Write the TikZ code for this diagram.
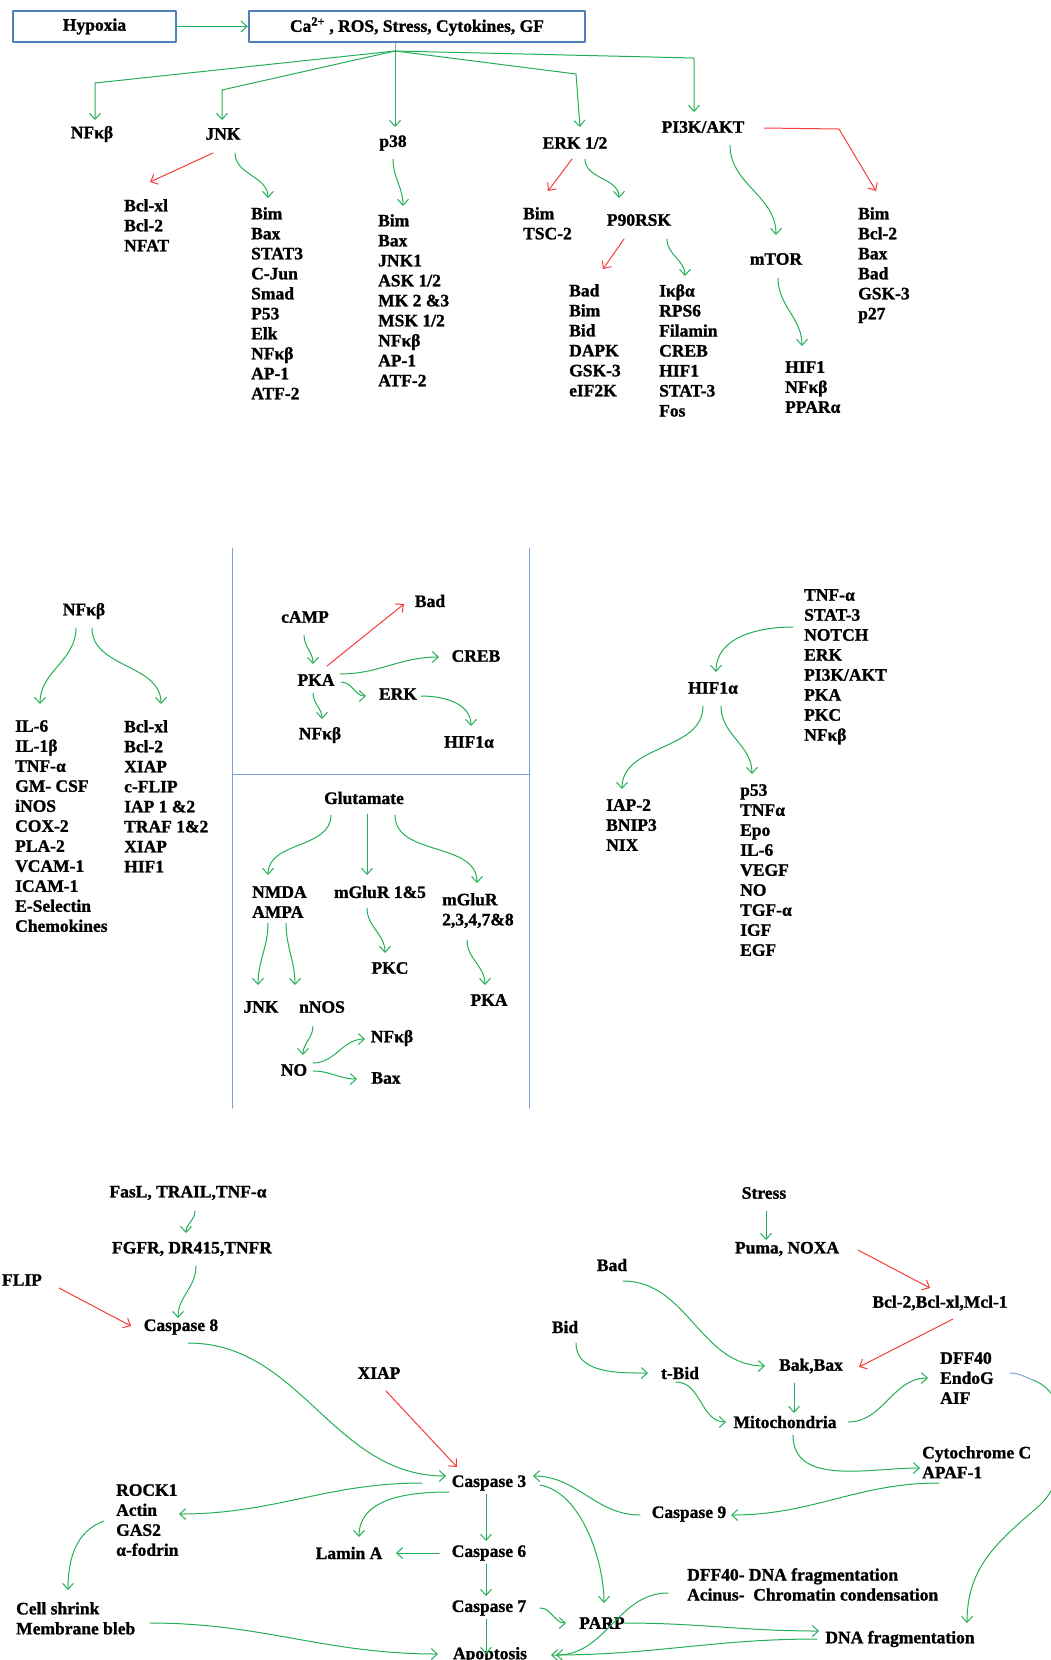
\documentclass[tikz,border=0pt]{standalone}
\usepackage{fontspec}
\setmainfont{Liberation Serif}[BoldFeatures={FakeBold=1.2}]
\usetikzlibrary{arrows.meta,calc}
\definecolor{arrgreen}{RGB}{35,175,85}
\definecolor{arrred}{RGB}{245,60,60}
\definecolor{boxblue}{RGB}{79,129,189}
\definecolor{sepblue}{RGB}{125,160,215}
\begin{document}
\begin{tikzpicture}[x=1pt,y=1pt,font=\fontsize{17.5}{20}\selectfont\bfseries,line join=round,line cap=round,>={Straight Barb[length=6pt,width=11pt]}]
\tikzset{every node/.style={inner sep=1pt},
  ga/.style={arrgreen,line width=1pt,->},
  ra/.style={arrred,line width=1pt,->},
  lst/.style={align=left,anchor=north west,inner sep=0pt},
  bx/.style={draw=boxblue,line width=2.5pt,minimum height=31pt}}
\useasboundingbox (0,0) rectangle (1051,-1660);

% kinases
\node[bx,minimum width=163pt] (hyp) at (94.5,-26.5) {Hypoxia};
\node[bx,minimum width=336pt] (ca) at (417,-26.5) {Ca\textsuperscript{2+} , ROS, Stress, Cytokines, GF};
\coordinate (hub) at (395,-51);
\node (nfkb1) at (92,-134) {NFκβ};
\node (jnk1) at (223,-134) {JNK};
\node (p38) at (393,-143) {p38};
\node (erk1) at (575,-143) {ERK 1/2};
\node (pi3k) at (703,-127) {PI3K/AKT};
\node[lst] (bclA) at (124,-199) {Bcl-xl\\Bcl-2\\NFAT};
\node[lst] (jnkL) at (251,-207) {Bim\\Bax\\STAT3\\C-Jun\\Smad\\P53\\Elk\\NFκβ\\AP-1\\ATF-2};
\node[lst] (p38L) at (378,-214) {Bim\\Bax\\JNK1\\ASK 1/2\\MK 2 \&3\\MSK 1/2\\NFκβ\\AP-1\\ATF-2};
\node[lst] (erkL) at (523,-207) {Bim\\TSC-2};
\node (p90) at (639,-220) {P90RSK};
\node[lst] (p90A) at (569,-284) {Bad\\Bim\\Bid\\DAPK\\GSK-3\\eIF2K};
\node[lst] (p90B) at (659,-284) {Iκβα\\RPS6\\Filamin\\CREB\\HIF1\\STAT-3\\Fos};
\node (mtor) at (776,-259) {mTOR};
\node[lst] (mtorL) at (785,-361) {HIF1\\NFκβ\\PPARα};
\node[lst] (pi3kL) at (858,-207) {Bim\\Bcl-2\\Bax\\Bad\\GSK-3\\p27};

\draw[ga] (hyp) -- (ca);
\draw[sepblue,line width=1pt] (ca.south -| hub) -- (hub);
\draw[ga] (hub) -- (95,-83) -- ($(nfkb1)+(3,14)$);
\draw[ga] (hub) -- (222,-90) -- ($(jnk1)+(-1,14)$);
\draw[ga] (hub) -- ($(p38)+(2,16)$);
\draw[ga] (hub) -- (576,-74) -- ($(erk1)+(5,16)$);
\draw[ga] (hub) -- (694,-58) -- ($(pi3k)+(-9,15)$);
\draw[ra] ($(jnk1)+(-10,-19)$) -- ($(bclA.north west)+(26,17)$);
\draw[ga] ($(jnk1)+(12,-19)$) to[out=-90,in=90] ($(jnkL.north west)+(17,9)$);
\draw[ga] ($(p38)+(0,-16)$) to[out=-90,in=90] ($(p38L.north west)+(25,8)$);
\draw[ra] ($(erk1)+(-3,-16)$) -- ($(erkL.north west)+(25,16)$);
\draw[ga] ($(erk1)+(10,-16)$) to[out=-90,in=90] ($(p90)+(-20,22)$);
\draw[ra] ($(p90)+(-15,-19)$) -- ($(p90A.north west)+(34,15)$);
\draw[ga] ($(p90)+(28,-19)$) to[out=-90,in=90] ($(p90B.north west)+(26,8)$);
\draw[ga] ($(pi3k)+(27,-18)$) to[out=-90,in=90] ($(mtor)+(0,24)$);
\draw[ga] ($(mtor)+(2,-19)$) to[out=-90,in=90] ($(mtorL.north west)+(17,15)$);
\draw[ra] ($(pi3k)+(61,-1)$) -- (839,-129) -- ($(pi3kL.north west)+(18,16)$);

% NFkb, cAMP, glutamate, HIF1a
\draw[sepblue,line width=1pt] (232,-548) -- (232,-1108) (529,-548) -- (529,-1108) (232,-774) -- (529,-774);
\node (nfkb2) at (84,-611) {NFκβ};
\node[lst] (il6L) at (15,-720) {IL-6\\IL-1β\\TNF-α\\GM- CSF\\iNOS\\COX-2\\PLA-2\\VCAM-1\\ICAM-1\\E-Selectin\\Chemokines};
\node[lst] (bcl2L) at (124,-720) {Bcl-xl\\Bcl-2\\XIAP\\c-FLIP\\IAP 1 \&2\\TRAF 1\&2\\XIAP\\HIF1};
\node (camp) at (305,-617) {cAMP};
\node (bad1) at (430,-601) {Bad};
\node (pka) at (316,-680) {PKA};
\node (creb) at (476,-656) {CREB};
\node (erk2) at (398,-694) {ERK};
\node (nfkb3) at (320,-735) {NFκβ};
\node (hif1) at (469,-742) {HIF1α};
\node (glut) at (364,-798) {Glutamate};
\node[lst] (nmdaL) at (252,-886) {NMDA\\AMPA};
\node (mglu15) at (380,-892) {mGluR 1\&5};
\node[lst] (mglu2L) at (442,-893) {mGluR\\2,3,4,7\&8};
\node (jnk2) at (261,-1007) {JNK};
\node (nnos) at (322,-1007) {nNOS};
\node (pkc) at (390,-968) {PKC};
\node (pka2) at (489,-1000) {PKA};
\node (no) at (294,-1070) {NO};
\node (nfkb4) at (392,-1038) {NFκβ};
\node (bax) at (386,-1078) {Bax};
\node[lst] (tnfL) at (804,-589) {TNF-α\\STAT-3\\NOTCH\\ERK\\PI3K/AKT\\PKA\\PKC\\NFκβ};
\node (hif2) at (713,-688) {HIF1α};
\node[lst] (iap) at (606,-799) {IAP-2\\BNIP3\\NIX};
\node[lst] (p53L) at (740,-784) {p53\\TNFα\\Epo\\IL-6\\VEGF\\NO\\TGF-α\\IGF\\EGF};

\draw[ga] ($(nfkb2)+(-8,-17)$) to[out=-90,in=90] ($(il6L.north west)+(25,16)$);
\draw[ga] ($(nfkb2)+(8,-17)$) to[out=-90,in=90] ($(bcl2L.north west)+(37,16)$);
\draw[ga] ($(camp)+(-1,-18)$) to[out=-90,in=90] ($(pka)+(-3,16)$);
\draw[ra] ($(pka)+(11,14)$) -- ($(bad1)+(-26,-3)$);
\draw[ga] ($(pka)+(24,6)$) to[out=0,in=180] ($(creb)+(-37,-1)$);
\draw[ga] ($(pka)+(25,-2)$) to[out=0,in=180] ($(erk2)+(-32,-2)$);
\draw[ga] ($(pka)+(-3,-13)$) to[out=-90,in=90] ($(nfkb3)+(2,16)$);
\draw[ga] ($(erk2)+(23,-2)$) to[out=0,in=90] ($(hif1)+(2,16)$);
\draw[ga] ($(glut)+(-33,-17)$) to[out=-90,in=90] ($(nmdaL.north west)+(16,11)$);
\draw[ga] ($(glut)+(3,-16)$) -- ($(mglu15)+(-13,17)$);
\draw[ga] ($(glut)+(31,-17)$) to[out=-90,in=90] ($(mglu2L.north west)+(35,10)$);
\draw[ga] ($(nmdaL.north west)+(16,-37)$) to[out=-90,in=90] ($(jnk2)+(-3,22)$);
\draw[ga] ($(nmdaL.north west)+(34,-37)$) to[out=-90,in=90] ($(nnos)+(-27,22)$);
\draw[ga] ($(mglu15)+(-13,-16)$) to[out=-90,in=90] ($(pkc)+(-5,15)$);
\draw[ga] ($(mglu2L.north west)+(25,-47)$) to[out=-90,in=90] ($(pka2)+(-4,15)$);
\draw[ga] ($(nnos)+(-9,-19)$) to[out=-90,in=90] ($(no)+(9,15)$);
\draw[ga] ($(no)+(19,7)$) to[out=0,in=180] ($(nfkb4)+(-27,-1)$);
\draw[ga] ($(no)+(19,-1)$) to[out=0,in=180] ($(bax)+(-29,-1)$);
\draw[ga] ($(tnfL.north west)+(-11,-38)$) to[out=180,in=90] ($(hif2)+(3,16)$);
\draw[ga] ($(hif2)+(-10,-18)$) to[out=-90,in=90] ($(iap.north west)+(16,10)$);
\draw[ga] ($(hif2)+(8,-18)$) to[out=-90,in=90] ($(p53L.north west)+(12,10)$);

% caspases
\node (fasl) at (188,-1193) {FasL, TRAIL,TNF-α};
\node (fgfr) at (192,-1249) {FGFR, DR415,TNFR};
\node (flip) at (22,-1280) {FLIP};
\node (casp8) at (181,-1327) {Caspase 8};
\node (xiap) at (379,-1373) {XIAP};
\node (casp3) at (489,-1483) {Caspase 3};
\node (casp6) at (489,-1553) {Caspase 6};
\node (casp7) at (489,-1608) {Caspase 7};
\node (apop) at (490,-1655) {Apoptosis};
\node (lamin) at (349,-1553) {Lamin A};
\node[lst] (rockL) at (116,-1484) {ROCK1\\Actin\\GAS2\\α-fodrin};
\node[lst] (cellL) at (16,-1602) {Cell shrink\\Membrane bleb};
\node (stress) at (764,-1193) {Stress};
\node (puma) at (787,-1249) {Puma, NOXA};
\node (bcl3) at (940,-1303) {Bcl-2,Bcl-xl,Mcl-1};
\node (bad2) at (612,-1265) {Bad};
\node (bid) at (565,-1327) {Bid};
\node (tbid) at (680,-1373) {t-Bid};
\node (bakbax) at (811,-1366) {Bak,Bax};
\node (mito) at (785,-1422) {Mitochondria};
\node[lst] (dffL) at (940,-1352) {DFF40\\EndoG\\AIF};
\node[lst] (cytL) at (922,-1446) {Cytochrome C\\APAF-1};
\node (casp9) at (689,-1514) {Caspase 9};
\node (parp) at (602,-1623) {PARP};
\node[lst] (acL) at (687,-1568) {DFF40- DNA fragmentation\\Acinus-\ \ Chromatin condensation};
\node (dnaf) at (900,-1639) {DNA fragmentation};
\coordinate (bend) at (1033,-1380);

\draw[ga] ($(fasl)+(7,-18)$) to[out=-90,in=90] ($(fgfr)+(-6,16)$);
\draw[ga] ($(fgfr)+(4,-17)$) to[out=-90,in=90] ($(casp8)+(-3,9)$);
\draw[ra] ($(flip)+(37,-8)$) -- ($(casp8)+(-50,1)$);
\draw[ga] ($(stress)+(2,-18)$) -- ($(puma)+(-21,9)$);
\draw[ra] ($(puma)+(71,-1)$) -- ($(bcl3)+(-10,15)$);
\draw[ra] ($(bcl3)+(13,-16)$) -- ($(bakbax)+(48,-1)$);
\draw[ga] ($(bad2)+(11,-16)$) to[out=0,in=180] ($(bakbax)+(-46,0)$);
\draw[ga] ($(bid)+(11,-16)$) to[out=-90,in=180] ($(tbid)+(-32,0)$);
\draw[ga] ($(tbid)+(-4,-9)$) to[out=0,in=180] ($(mito)+(-59,0)$);
\draw[ga] ($(bakbax)+(-17,-17)$) -- ($(mito)+(9,9)$);
\draw[ga] ($(mito)+(63,0)$) to[out=0,in=180] ($(dffL.north west)+(-12,-26)$);
\draw[ga] ($(mito)+(8,-13)$) to[out=-90,in=180] ($(cytL.north west)+(-2,-22)$);
\draw[ga] ($(cytL.north west)+(17,-37)$) to[out=180,in=0] ($(casp9)+(42,-1)$);
\draw[ga] ($(casp9)+(-49,-1)$) to[out=180,in=0] ($(casp3)+(44,7)$);
\draw[ga] ($(casp3)+(51,-2)$) to[out=-10,in=90,looseness=0.8] ($(parp)+(2,20)$);
\draw[ga] ($(casp3)+(-3,-11)$) -- ($(casp6)+(-3,12)$);
\draw[ga] ($(casp6)+(-3,-11)$) -- ($(casp7)+(-3,12)$);
\draw[ga] ($(casp7)+(-3,-11)$) -- ($(apop)+(-4,1)$);
\draw[ga] ($(casp6)+(-50,0)$) -- ($(lamin)+(47,0)$);
\draw[ga] ($(casp3)+(-40,-9)$) to[out=180,in=90] ($(lamin)+(10,16)$);
\draw[ga] ($(casp3)+(-67,0)$) to[out=180,in=0] ($(rockL.north west)+(63,-30)$);
\draw[ga] ($(rockL.north west)+(-12,-37)$) to[out=200,in=90] ($(cellL.north west)+(52,12)$);
\draw[ga] ($(cellL.north west)+(134,-21)$) to[out=0,in=180] ($(apop)+(-52,1)$);
\draw[ra] ($(xiap)+(7,-18)$) -- ($(casp3)+(-32,16)$);
\draw[ga] ($(casp8)+(7,-16)$) to[out=0,in=180] ($(casp3)+(-43,7)$);
\draw[ga] ($(casp7)+(51,0)$) to[out=0,in=180] ($(parp)+(-36,0)$);
\draw[ga] ($(parp)+(22,0)$) to[out=0,in=180] ($(dnaf)+(-81,8)$);
\draw[ga] ($(dnaf)+(-83,0)$) to[out=180,in=0] ($(apop)+(61,0)$);
\draw[ga] ($(acL.north west)+(-19,-25)$) to[out=180,in=0] ($(apop)+(66,0)$);
\draw[sepblue,line width=1pt] ($(dffL.north west)+(70,-21)$) to[out=0,in=160] (bend);
\draw[ga] (bend) .. controls (1075,-1395) and (1072,-1475) .. (1040,-1505) .. controls (1000,-1540) and (967,-1565) .. ($(dnaf)+(67,16)$);
\end{tikzpicture}
\end{document}
